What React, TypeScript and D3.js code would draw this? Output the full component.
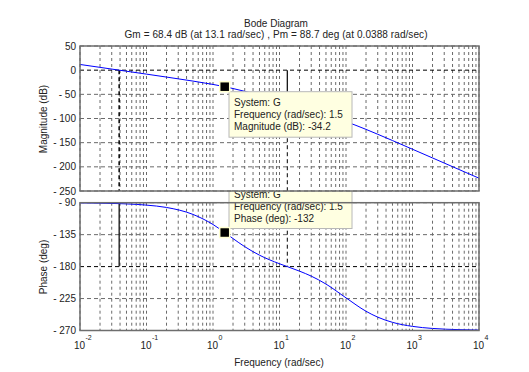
import React from "react";
import * as d3 from "d3";

// Frequency samples (rad/sec) and values
const freqs = [0.01, 0.02, 0.0388, 0.05, 0.1, 0.2, 0.5, 1, 1.5, 2, 3, 5, 10, 13.1, 20, 30, 50, 100, 200, 300, 500, 1000, 2000, 5000, 10000];
const magDb = [11.8, 5.8, 0, -2.2, -8.2, -14.3, -22.6, -29.5, -34.2, -38.0, -43.8, -52.0, -63.7, -68.4, -75.8, -83.0, -92.4, -106.5, -122.5, -132.6, -145.6, -163.6, -181.6, -205.5, -223.5];
const phaseDeg = [-90.3, -90.7, -91.3, -91.7, -93.4, -96.7, -106.5, -120.7, -132.0, -140.5, -151.9, -163.9, -176.0, -180.0, -186.4, -193.4, -204.6, -224.0, -242.9, -251.2, -258.5, -264.2, -267.1, -268.8, -269.4];

const magTicks = [50, 0, -50, -100, -150, -200, -250];
const phaseTicks = [-90, -135, -180, -225, -270];
const decadeExps = [-2, -1, 0, 1, 2, 3, 4];

const gainMargin = { freq: 13.1, mag: -68.4, phase: -180 };
const phaseMargin = { freq: 0.0388, mag: 0, phase: -91.3 };
const datatip = { freq: 1.5, mag: -34.2, phase: -132 };

const title = "Bode Diagram";
const subtitle = "Gm = 68.4 dB (at 13.1 rad/sec) ,  Pm = 88.7 deg (at 0.0388 rad/sec)";

const FONT = "'Liberation Sans', Arial, sans-serif";
const GRID = "#6a6a6a";
const AXIS = "#6e6e6e";

export default function App() {
  const x0 = 80, x1 = 479;
  const x = d3.scaleLog().domain([0.01, 10000]).range([x0, x1]);
  const yM = d3.scaleLinear().domain([-250, 50]).range([191, 46]);
  const yP = d3.scaleLinear().domain([-270, -90]).range([330.5, 202.7]);

  const minorFreqs: number[] = [];
  for (let e = -2; e < 4; e++) for (let k = 2; k <= 9; k++) minorFreqs.push(k * Math.pow(10, e));
  const majorFreqs = decadeExps.map((e) => Math.pow(10, e));

  const magLine = d3.line<number>().x((_, i) => x(freqs[i])).y((d) => yM(d)).curve(d3.curveMonotoneX);
  const phLine = d3.line<number>().x((_, i) => x(freqs[i])).y((d) => yP(d)).curve(d3.curveMonotoneX);

  const renderGrid = (y: d3.ScaleLinear<number, number>, ticks: number[], zeroLine: number) => {
    const [yb, yt] = y.range();
    return (
      <g>
        <rect x={x0} y={yt} width={x1 - x0} height={yb - yt} fill="#fff" />
        {minorFreqs.concat(majorFreqs).map((f, i) => (
          <line key={"v" + i} x1={x(f)} x2={x(f)} y1={yt} y2={yb} stroke={GRID} strokeWidth={1} strokeDasharray="3,3" />
        ))}
        {ticks.map((t, i) => (
          t === zeroLine ? null :
          <line key={"h" + i} x1={x0} x2={x1} y1={y(t)} y2={y(t)} stroke={GRID} strokeWidth={1} strokeDasharray="4,3" />
        ))}
        <line x1={x0} x2={x1} y1={y(zeroLine)} y2={y(zeroLine)} stroke="#000" strokeWidth={1} strokeDasharray="4,3" />
      </g>
    );
  };

  const renderAxisFrame = (y: d3.ScaleLinear<number, number>, ticks: number[]) => {
    const [yb, yt] = y.range();
    return (
      <g>
        <rect x={x0} y={yt} width={x1 - x0} height={yb - yt} fill="none" stroke={AXIS} strokeWidth={1.5} />
        {ticks.map((t, i) => (
          <text key={"t" + i} x={76} y={y(t)} dy="0.35em" textAnchor="end" fontSize={10} fill="#222" fontFamily={FONT}>
            {t < 0 ? "- " + Math.abs(t) : String(t)}
          </text>
        ))}
      </g>
    );
  };

  const renderTip = (bx: number, by: number, label: string, value: number, mx: number, my: number) => (
    <g>
      <rect x={bx} y={by} width={123} height={45.5} fill="#ffffe1" stroke="#b8b8b8" strokeWidth={1} />
      <text x={bx + 5} y={by + 11} dy="0.35em" fontSize={10} fill="#222" fontFamily={FONT}>System: G</text>
      <text x={bx + 5} y={by + 23} dy="0.35em" fontSize={10} fill="#222" fontFamily={FONT}>{"Frequency (rad/sec): " + datatip.freq}</text>
      <text x={bx + 5} y={by + 35} dy="0.35em" fontSize={10} fill="#222" fontFamily={FONT}>{label + ": " + value}</text>
    </g>
  );

  const marker = (mx: number, my: number) => (
    <rect x={mx - 5} y={my - 5} width={10} height={10} fill="#000" stroke="#ffffd0" strokeWidth={1.5} />
  );

  const gmX = x(gainMargin.freq);
  const pmX = x(phaseMargin.freq);
  const tipX = x(datatip.freq);

  return (
    <svg width={529} height={372} style={{ position: "absolute", left: 0, top: 0, background: "#fff" }}>
      <rect width={529} height={372} fill="#fff" />
      <text x={276} y={23} dy="0.35em" textAnchor="middle" fontSize={10} fill="#222" fontFamily={FONT}>{title}</text>
      <text x={276} y={34.5} dy="0.35em" textAnchor="middle" fontSize={10} fill="#222" fontFamily={FONT} textLength={303} lengthAdjust="spacing">{subtitle}</text>

      {/* Phase plot (drawn first so that the magnitude axes covers the tip overflow) */}
      {renderGrid(yP, phaseTicks, -180)}
      <line x1={pmX} x2={pmX} y1={yP(phaseMargin.phase)} y2={yP(-180)} stroke="#000" strokeWidth={1.2} />
      <line x1={gmX} x2={gmX} y1={yP(-90)} y2={yP(-180)} stroke="#000" strokeWidth={1} strokeDasharray="4,3" />
      <path d={phLine(phaseDeg) || ""} fill="none" stroke="#0000ff" strokeWidth={1} />
      {renderTip(229, 183, "Phase (deg)", datatip.phase, tipX, yP(datatip.phase))}
      {marker(tipX, yP(datatip.phase))}
      {renderAxisFrame(yP, phaseTicks)}

      {/* Magnitude plot */}
      {renderGrid(yM, magTicks, 0)}
      <line x1={pmX} x2={pmX} y1={yM(0)} y2={yM(-250)} stroke="#000" strokeWidth={1.5} strokeDasharray="4,3" />
      <line x1={gmX} x2={gmX} y1={yM(0)} y2={yM(gainMargin.mag)} stroke="#000" strokeWidth={1.2} />
      <line x1={gmX} x2={gmX} y1={yM(gainMargin.mag)} y2={yM(-250)} stroke="#000" strokeWidth={1} strokeDasharray="4,3" />
      <path d={magLine(magDb) || ""} fill="none" stroke="#0000ff" strokeWidth={1} />
      {renderTip(229, 91.7, "Magnitude (dB)", datatip.mag, tipX, yM(datatip.mag))}
      {marker(tipX, yM(datatip.mag))}
      {renderAxisFrame(yM, magTicks)}

      {/* X tick labels */}
      {decadeExps.map((e, i) => {
        const px = x(Math.pow(10, e));
        return (
          <g key={"xl" + i} fontFamily={FONT} fill="#222">
            <text x={px + 5} y={345} dy="0.35em" textAnchor="end" fontSize={10}>10</text>
            <text x={px + 5.5} y={338} dy="0.35em" textAnchor="start" fontSize={7}>{String(e)}</text>
          </g>
        );
      })}

      <text x={279} y={362} dy="0.35em" textAnchor="middle" fontSize={10} fill="#222" fontFamily={FONT}>Frequency  (rad/sec)</text>
      <text transform={`translate(43,119) rotate(-90)`} dy="0.35em" textAnchor="middle" fontSize={10} fill="#222" fontFamily={FONT}>Magnitude (dB)</text>
      <text transform={`translate(43,267) rotate(-90)`} dy="0.35em" textAnchor="middle" fontSize={10} fill="#222" fontFamily={FONT}>Phase (deg)</text>
    </svg>
  );
}
